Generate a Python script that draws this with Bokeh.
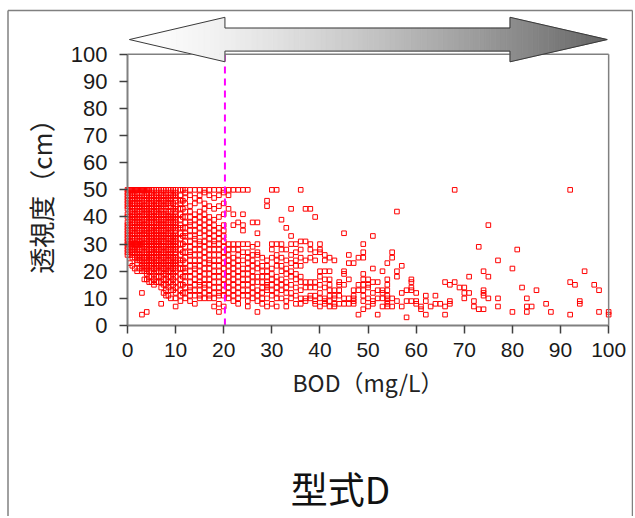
from bokeh.plotting import figure
from bokeh.models import Label, FixedTicker, Range1d
from bokeh.embed import file_html
from bokeh.resources import INLINE

# ---------------- data ----------------
x_ticks = [0, 10, 20, 30, 40, 50, 60, 70, 80, 90, 100]
y_ticks = [0, 10, 20, 30, 40, 50, 60, 70, 80, 90, 100]
x_title = "BOD（mg/L）"
y_title = "透視度（cm）"
chart_title = "型式D"
cut_bod = 20.25

dense_bod = [0, 0.5, 1, 1.5, 2, 2.5, 3, 3.5, 4, 4.5, 5, 5.5, 6, 6.5, 7, 7.5,
             8, 8.5, 9, 9.5, 10, 11, 11.5, 12, 13, 14, 15, 16, 17, 18, 19, 20]
dense_tou = [
    [50, 49, 48, 47, 46, 45, 44, 43, 41, 40, 38, 37, 36, 35, 34, 33, 32, 31, 30, 29, 28, 27, 26],
    [50, 48, 46, 45, 44, 42, 40, 39, 37, 35, 33, 31, 30, 29, 27, 26, 23],
    [50, 49, 48, 47, 46, 45, 44, 43, 42, 41, 40, 39, 38, 37, 36, 35, 34, 33, 32, 31, 30, 29, 28, 27, 26, 25, 22],
    [50, 48, 47, 45, 43, 41, 40, 38, 36, 34, 32, 30, 29, 28, 27, 25, 21],
    [50, 49, 48, 47, 46, 45, 44, 43, 42, 41, 40, 39, 38, 37, 36, 35, 34, 33, 32, 31, 30, 29, 28, 27, 26, 25, 24, 23, 20],
    [50, 47, 45, 44, 42, 40, 38, 37, 35, 33, 31, 30, 28, 26, 25, 24, 21],
    [50, 49, 48, 47, 46, 45, 44, 43, 42, 41, 40, 39, 38, 37, 36, 35, 34, 33, 32, 31, 30, 29, 28, 27, 26, 25, 24, 23, 22, 21, 20, 12, 4],
    [50, 48, 46, 44, 43, 41, 39, 37, 35, 34, 32, 30, 29, 27, 25, 23, 22, 20, 17],
    [50, 49, 48, 47, 46, 45, 44, 43, 42, 41, 40, 39, 38, 37, 36, 35, 34, 33, 32, 31, 30, 29, 28, 27, 26, 25, 24, 23, 22, 21, 20, 19, 17, 5],
    [50, 47, 45, 43, 41, 40, 38, 36, 34, 33, 31, 30, 28, 26, 25, 24, 22, 20, 18, 16],
    [50, 49, 48, 47, 46, 45, 44, 43, 42, 41, 40, 39, 38, 37, 36, 35, 34, 33, 32, 31, 30, 29, 28, 27, 26, 25, 24, 23, 22, 21, 20, 18, 16],
    [50, 48, 46, 44, 42, 40, 38, 36, 35, 33, 31, 30, 28, 27, 25, 23, 21, 19, 17, 15],
    [50, 49, 48, 47, 46, 45, 44, 43, 42, 41, 40, 39, 38, 37, 36, 35, 34, 33, 32, 31, 30, 29, 28, 27, 26, 25, 24, 23, 22, 21, 20, 18, 16],
    [50, 47, 45, 43, 41, 39, 37, 35, 33, 31, 30, 28, 26, 24, 22, 20, 18, 16],
    [50, 49, 48, 47, 46, 45, 44, 43, 42, 41, 40, 39, 38, 37, 36, 35, 34, 33, 32, 31, 30, 29, 28, 27, 26, 25, 24, 23, 22, 21, 20, 18, 16, 14, 8],
    [50, 48, 46, 44, 41, 39, 37, 35, 33, 31, 29, 27, 25, 23, 21, 19, 17, 15, 12],
    [50, 49, 48, 47, 46, 45, 44, 43, 42, 41, 40, 39, 38, 37, 36, 35, 34, 33, 32, 31, 30, 29, 28, 27, 26, 25, 24, 23, 22, 21, 20, 19, 17, 15, 13, 11],
    [50, 47, 45, 42, 40, 38, 36, 34, 32, 30, 28, 26, 24, 22, 20, 18, 16, 14, 11],
    [50, 49, 48, 47, 46, 45, 44, 42, 41, 40, 39, 38, 37, 36, 35, 34, 33, 32, 31, 30, 29, 28, 27, 26, 25, 24, 23, 22, 21, 20, 18, 16, 13, 10],
    [50, 48, 45, 43, 40, 38, 36, 33, 31, 30, 28, 25, 23, 21, 19, 17, 15, 13],
    [50, 49, 48, 47, 46, 44, 43, 42, 41, 40, 39, 38, 37, 36, 35, 34, 33, 32, 31, 30, 29, 28, 27, 26, 25, 24, 23, 22, 21, 20, 18, 16, 14, 12, 10, 7],
    [50, 48, 46, 45, 43, 41, 39, 37, 36, 34, 32, 30, 28, 26, 24, 23, 21, 19, 17, 15, 13, 11, 9],
    [50, 46, 43, 40, 36, 33, 30, 27, 24, 21, 18, 15, 12],
    [50, 49, 47, 45, 42, 40, 38, 36, 34, 33, 31, 29, 27, 25, 23, 21, 20, 18, 16, 14, 12, 10],
    [50, 48, 44, 42, 40, 38, 37, 35, 33, 31, 29, 27, 26, 24, 22, 20, 18, 16, 14, 13, 11, 9],
    [50, 47, 45, 41, 39, 37, 35, 33, 32, 30, 28, 26, 24, 22, 21, 19, 17, 15, 13, 11, 8],
    [50, 48, 46, 42, 40, 38, 36, 34, 31, 30, 28, 26, 24, 22, 20, 18, 16, 15, 13, 11, 10],
    [50, 49, 45, 43, 41, 39, 37, 35, 33, 31, 29, 27, 25, 23, 21, 19, 17, 15, 14, 12, 10],
    [50, 48, 44, 40, 38, 36, 34, 32, 30, 28, 26, 24, 23, 21, 19, 17, 15, 13, 11, 10],
    [50, 47, 43, 39, 37, 35, 33, 31, 30, 28, 26, 24, 22, 20, 18, 16, 14, 12, 10, 7],
    [50, 48, 44, 40, 36, 34, 32, 30, 28, 26, 24, 22, 20, 18, 16, 14, 12, 11, 8, 5],
    [50, 49, 45, 41, 37, 35, 33, 31, 29, 27, 25, 23, 21, 19, 17, 15, 13, 11, 7],
]

mid_bod = [21, 22, 23, 24, 25, 26, 27, 28, 29, 30, 31, 32, 33, 34, 35, 36]
mid_tou = [
    [50, 48, 43, 30, 28, 26, 24, 22, 20, 18, 16, 14, 12, 10],
    [50, 41, 37, 30, 28, 25, 23, 21, 19, 17, 15, 13, 11, 9],
    [50, 38, 30, 28, 26, 24, 22, 20, 18, 16, 14, 12, 10, 8],
    [50, 41, 37, 35, 30, 27, 24, 21, 19, 17, 15, 13, 11],
    [50, 30, 27, 25, 23, 21, 19, 17, 15, 13, 11, 9, 7],
    [38, 29, 26, 24, 22, 20, 18, 16, 14, 12, 10],
    [38, 34, 30, 27, 26, 23, 21, 18, 16, 13, 11, 9, 5],
    [25, 22, 20, 18, 16, 14, 12, 10, 8],
    [46, 44, 24, 22, 20, 18, 16, 15, 14, 13, 10, 7],
    [50, 30, 28, 25, 21, 19, 17, 15, 13, 11, 8],
    [50, 30, 26, 24, 22, 18, 16, 14, 12, 10, 7],
    [39, 30, 28, 25, 22, 20, 17, 15, 13, 10],
    [36, 28, 24, 21, 19, 16, 14, 12, 9, 7],
    [43, 33, 30, 26, 23, 20, 18, 15, 12, 10],
    [30, 27, 24, 22, 19, 17, 14, 11, 8],
    [50, 31, 28, 25, 22, 18, 16, 13, 10, 8],
]

sparse_bod = [37, 38, 39, 40, 41, 42, 43, 44, 45, 46, 47, 48, 49, 50, 51, 52, 53, 54,
              55, 56, 57, 58, 59, 60, 61, 62, 63, 64, 65, 66, 67, 68, 69, 70, 71, 72,
              73, 74, 75, 77, 80, 81, 82, 83, 84, 85, 87, 88, 92, 93, 94, 95, 97, 98, 100]
sparse_tou = [
    [43, 31, 24, 16, 14, 10, 9],
    [43, 30, 28, 25, 16, 14, 11, 10],
    [40, 27, 24, 16, 14, 11, 9, 8],
    [30, 28, 27, 20, 18, 15, 12, 10, 7],
    [26, 24, 20, 17, 14, 10, 9, 8],
    [25, 20, 17, 15, 13, 11, 9, 7],
    [24, 13, 11, 10, 8, 7],
    [16, 15, 13, 11, 8],
    [34, 20, 19, 15, 10, 8],
    [26, 23, 17, 10, 8],
    [23, 13, 11, 10, 9, 8],
    [25, 15, 13, 4],
    [30, 27, 25, 19, 17, 15, 13, 11, 9, 6],
    [17, 15, 14, 10, 7],
    [33, 21, 16, 12, 9, 8],
    [16, 13, 10, 4],
    [20, 13, 12, 10, 7],
    [23, 17, 15, 13, 11, 10, 9, 8, 7],
    [27, 25, 10, 7],
    [42, 20, 18, 9],
    [22, 12, 7],
    [13, 9, 3],
    [17, 16, 14, 13, 9],
    [12, 9, 8],
    [7, 6],
    [11, 9, 4],
    [7],
    [11, 8],
    [8],
    [16, 7, 4],
    [15, 9, 8],
    [50, 16],
    [14],
    [14, 12, 10],
    [18, 12],
    [9, 7],
    [29, 6],
    [20, 13, 12, 11, 6],
    [37, 18, 10],
    [24, 10, 7],
    [21, 5],
    [28],
    [14],
    [10, 7, 5],
    [7],
    [13],
    [8],
    [5],
    [50, 16, 4],
    [15],
    [9, 8],
    [20],
    [15],
    [13, 5],
    [5, 4],
]

band_bod = [0.25, 0.75, 1.25, 1.75, 2.25, 2.75, 3.25, 3.75, 4.25,
            0.25, 0.75, 1.25, 1.75, 2.25, 2.75]
band_tou = [50, 50, 50, 50, 50, 50, 50, 50, 50,
            30, 30, 30, 30, 30, 30]

# ---------------- flatten ----------------
xs, ys = [], []
for group_b, group_t in ((dense_bod, dense_tou), (mid_bod, mid_tou), (sparse_bod, sparse_tou)):
    for b, col in zip(group_b, group_t):
        for t in col:
            xs.append(b)
            ys.append(t)
xs += band_bod
ys += band_tou

# ---------------- layout constants (pixels -> data) ----------------
W, H = 633, 516
PX_X = 4.8115          # pixels per BOD unit
PX_Y = 2.713           # pixels per cm
ORIG_X, ORIG_Y = 127, 325   # page position of (0, 0)
x0 = -ORIG_X / PX_X
x1 = x0 + W / PX_X
y1 = ORIG_Y / PX_Y
y0 = y1 - H / PX_Y


def dx(px):
    return (px - ORIG_X) / PX_X


def dy(py):
    return (ORIG_Y - py) / PX_Y


p = figure(width=W, height=H, x_range=Range1d(x0, x1), y_range=Range1d(y0, y1),
           output_backend="svg", toolbar_location=None,
           min_border_left=0, min_border_right=0, min_border_top=0, min_border_bottom=0)
p.title.visible = False
p.outline_line_color = None
p.grid.visible = False
p.background_fill_color = "white"
p.border_fill_color = "white"

for ax in (p.xaxis[0], p.yaxis[0]):
    ax.fixed_location = 0
    ax.bounds = (0, 100)
    ax.axis_line_color = "#808080"
    ax.axis_line_width = 2
    ax.major_tick_line_color = "#404040"
    ax.major_tick_line_width = 1.5
    ax.major_tick_in = 0
    ax.major_tick_out = 8
    ax.minor_tick_line_color = None
    ax.major_label_text_font = "Liberation Sans"
    ax.major_label_text_color = "#1a1a1a"
    ax.axis_label_text_font = "Noto Sans CJK JP"
    ax.axis_label_text_font_style = "normal"
    ax.axis_label_text_color = "#222222"

p.xaxis.ticker = FixedTicker(ticks=x_ticks)
p.yaxis.ticker = FixedTicker(ticks=y_ticks)
p.xaxis.axis_label = x_title
p.yaxis.axis_label = y_title
p.xaxis.major_label_text_font_size = "21px"
p.yaxis.major_label_text_font_size = "22px"
p.xaxis.axis_label_text_font_size = "23px"
p.yaxis.axis_label_text_font_size = "26px"
p.xaxis.major_label_standoff = 9
p.yaxis.major_label_standoff = 12
p.xaxis.axis_label_standoff = 5
p.yaxis.axis_label_standoff = 9

# scatter
p.scatter(x=xs, y=ys, marker="square", size=4.6, fill_color=None,
          line_color="#ff0000", line_width=1)

# threshold line
p.segment(x0=[cut_bod], y0=[0], x1=[cut_bod], y1=[100],
          line_color="#ff00ff", line_width=2, line_dash="7 5")

# plot box (top and right)
p.segment(x0=[0, 100], y0=[100, 0], x1=[100, 100], y1=[100, 100],
          line_color="#808080", line_width=1.5)

# double arrow with gradient fill
tipL, baseL, baseR, tipR = 0.4, cut_bod, 79.5, 99.7
yc, head_h, shaft_h = 105.4, 8.2, 4.25


def half(x):
    if x <= baseL:
        return head_h * (x - tipL) / (baseL - tipL)
    if x >= baseR:
        return head_h * (tipR - x) / (tipR - baseR)
    return shaft_h


n = 90
edges = [tipL + (tipR - tipL) * i / n for i in range(n + 1)]
edges += [baseL, baseR]
edges = sorted(set(edges))
sx, sy, sc = [], [], []
eps = 1e-6
for a, b in zip(edges[:-1], edges[1:]):
    m = 0.5 * (a + b)
    ha = half(a + eps)
    hb = half(b - eps)
    sx.append([a, b, b, a])
    sy.append([yc + ha, yc + hb, yc - hb, yc - ha])
    t = (m - tipL) / (tipR - tipL)
    g = int(round(255 - (255 - 100) * (t ** 1.4)))
    sc.append("#%02x%02x%02x" % (g, g, g))
p.patches(xs=sx, ys=sy, fill_color=sc, line_color=sc, line_width=0.8)

ax_ = [tipL, baseL, baseL, baseR, baseR, tipR, baseR, baseR, baseL, baseL, tipL]
ay_ = [yc, yc + head_h, yc + shaft_h, yc + shaft_h, yc + head_h, yc,
       yc - head_h, yc - shaft_h, yc - shaft_h, yc - head_h, yc]
p.line(ax_, ay_, line_color="#3a3a3a", line_width=1)

# outer frame (left, top, right)
fl, ft, fr, fb = dx(7.5), dy(10), dx(632), y0 - 5
p.segment(x0=[fl, fl, fr], y0=[fb, ft, ft], x1=[fl, fr, fr], y1=[ft, ft, fb],
          line_color="#808080", line_width=1.5)

# bottom title
p.add_layout(Label(x=dx(340), y=dy(487), text=chart_title, text_align="center",
                   text_baseline="middle", text_font="Noto Sans CJK JP",
                   text_font_size="37px", text_color="#111111"))

open("out.html", "w").write(file_html(p, INLINE))
